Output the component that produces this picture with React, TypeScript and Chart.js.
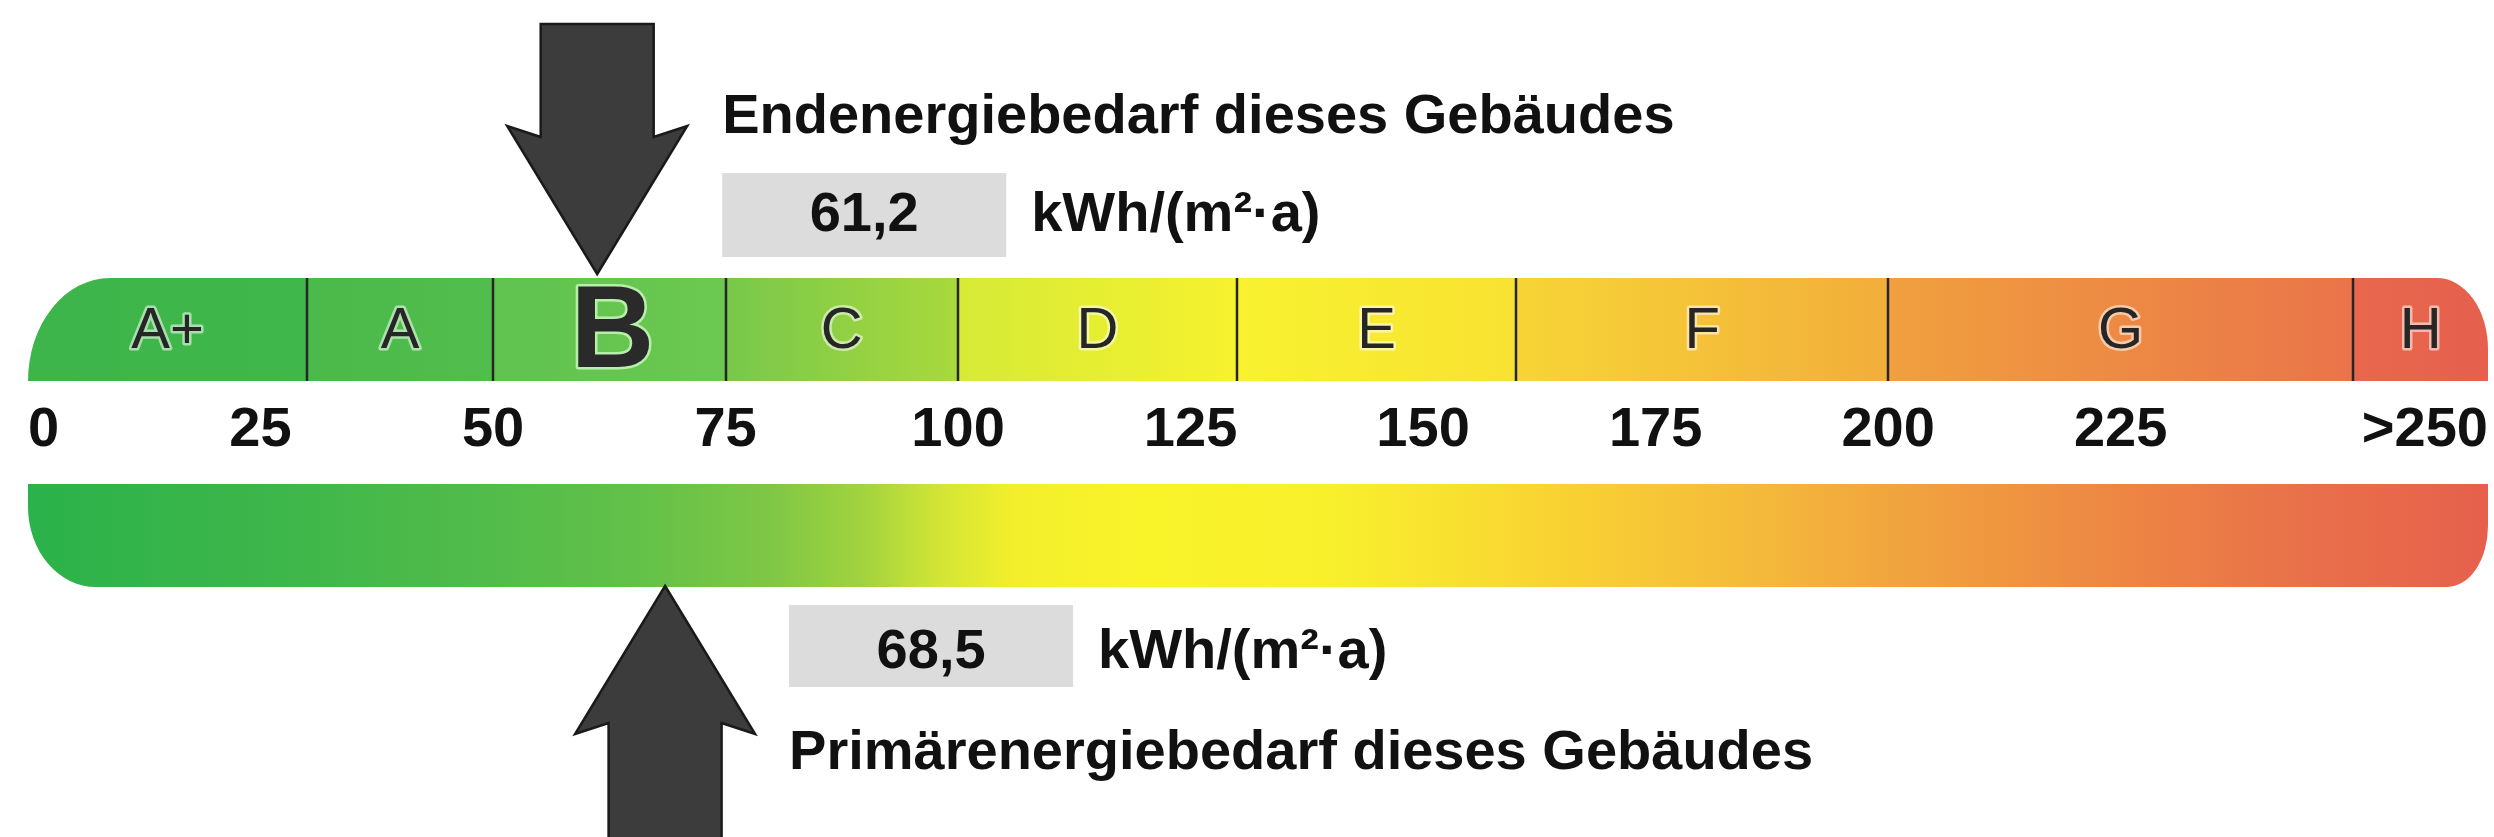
import { useEffect, useRef } from 'react';
import { Chart, registerables } from 'chart.js';

Chart.register(...registerables);

// ---------- data ----------
const rows = ['Endenergiebedarf', 'Skala', 'Primärenergiebedarf'];
const classLabels = ['A+', 'A', 'B', 'C', 'D', 'E', 'F', 'G', 'H'];
const classStarts = [0, 30, 50, 75, 100, 130, 160, 200, 250];
const classEnds = [30, 50, 75, 100, 130, 160, 200, 250, 264.5];
const tickValues = [0, 25, 50, 75, 100, 125, 150, 175, 200, 225];
const lastTickLabel = '>250';
const scaleMax = 264.5;
const endenergieValue = 61.2;
const primaerenergieValue = 68.5;
const unitLabel = 'kWh/(m²·a)';
const endTitle = 'Endenergiebedarf dieses Gebäudes';
const primTitle = 'Primärenergiebedarf dieses Gebäudes';

// ---------- styles ----------
const classColorsFrom = ['#3db54a', '#4aba4b', '#5fc350', '#78c84b', '#d6ea36', '#f8f22f', '#f7d536', '#f0a03e', '#e8674d'];
const classColorsTo = ['#40b74a', '#51bd4c', '#6cc850', '#a9d93c', '#f6f22e', '#f8e232', '#f2ae3b', '#ea744a', '#e6604d'];
const primStopValues = [0, 25, 50, 65, 80, 90, 98, 106, 120, 140, 152, 165, 185, 200, 225, 245, 264.5];
const primStopColors = ['#2bb24a', '#3cb64a', '#52bc4a', '#62c149', '#7fc745', '#a3d33e', '#d2e535', '#f3ef2c', '#f9f329', '#f8f02c', '#f9e22f', '#f9d232', '#f4bb3a', '#f1a53e', '#ed8643', '#e9704a', '#e6604c'];

const FONT = '"Liberation Sans", Arial, Helvetica, sans-serif';

const fmt = (v: number) => v.toFixed(1).replace('.', ',');

function bandPath(ctx: CanvasRenderingContext2D, l: number, t: number, r: number, b: number,
  tl: number[], tr: number[], br: number[], bl: number[]) {
  ctx.moveTo(l + tl[0], t);
  ctx.lineTo(r - tr[0], t);
  if (tr[0]) ctx.ellipse(r - tr[0], t + tr[1], tr[0], tr[1], 0, -Math.PI / 2, 0);
  ctx.lineTo(r, b - br[1]);
  if (br[0]) ctx.ellipse(r - br[0], b - br[1], br[0], br[1], 0, 0, Math.PI / 2);
  ctx.lineTo(l + bl[0], b);
  if (bl[0]) ctx.ellipse(l + bl[0], b - bl[1], bl[0], bl[1], 0, Math.PI / 2, Math.PI);
  ctx.lineTo(l, t + tl[1]);
  if (tl[0]) ctx.ellipse(l + tl[0], t + tl[1], tl[0], tl[1], 0, Math.PI, Math.PI * 1.5);
  ctx.closePath();
}

function bandOf(chart: any, datasetIndex: number) {
  const el = chart.getDatasetMeta(datasetIndex).data[0];
  const p = el.getProps(['y', 'height'], true);
  return { top: p.y - p.height / 2, bottom: p.y + p.height / 2 };
}

function drawArrow(ctx: CanvasRenderingContext2D, x: number, tipY: number, dir: number, endY: number) {
  // dir = 1: pointing down (tip below shaft); dir = -1: pointing up
  const head = 148, junction = 137, wing = 90, shaft = 56.5;
  ctx.save();
  ctx.beginPath();
  ctx.moveTo(x - shaft, endY);
  ctx.lineTo(x - shaft, tipY - dir * junction);
  ctx.lineTo(x - wing, tipY - dir * head);
  ctx.lineTo(x, tipY);
  ctx.lineTo(x + wing, tipY - dir * head);
  ctx.lineTo(x + shaft, tipY - dir * junction);
  ctx.lineTo(x + shaft, endY);
  ctx.closePath();
  ctx.fillStyle = '#3c3c3c';
  ctx.fill();
  ctx.lineWidth = 2.5;
  ctx.strokeStyle = '#1a1a1a';
  ctx.lineJoin = 'miter';
  ctx.stroke();
  ctx.restore();
}

const energyPlugin = {
  id: 'energyPlugin',
  beforeDraw(chart: any) {
    const ctx = chart.ctx;
    ctx.save();
    ctx.fillStyle = '#ffffff';
    ctx.fillRect(0, 0, chart.width, chart.height);
    ctx.restore();
  },
  beforeDatasetsDraw(chart: any) {
    const ctx = chart.ctx;
    const xs = chart.scales.x;
    const l = xs.getPixelForValue(0);
    const r = xs.getPixelForValue(scaleMax);
    const top = bandOf(chart, 0);
    const bot = bandOf(chart, 1);
    const h = top.bottom - top.top;
    ctx.save();
    ctx.beginPath();
    bandPath(ctx, l, top.top, r, top.bottom, [82, h], [51, 71], [0, 0], [0, 0]);
    bandPath(ctx, l, bot.top, r, bot.bottom, [0, 0], [0, 0], [41, 61], [68, 80]);
    ctx.clip();
  },
  afterDatasetsDraw(chart: any) {
    const ctx = chart.ctx;
    ctx.restore();
    const xs = chart.scales.x;
    const top = bandOf(chart, 0);
    // class dividers
    ctx.save();
    ctx.strokeStyle = '#262626';
    ctx.lineWidth = 2.5;
    for (let i = 1; i < classStarts.length; i++) {
      const px = Math.round(xs.getPixelForValue(classStarts[i]));
      ctx.beginPath();
      ctx.moveTo(px, top.top);
      ctx.lineTo(px, top.bottom);
      ctx.stroke();
    }
    // class labels
    const meta = chart.getDatasetMeta(0);
    ctx.textAlign = 'center';
    ctx.textBaseline = 'alphabetic';
    ctx.lineJoin = 'round';
    meta.data.forEach((el: any, i: number) => {
      const p = el.getProps(['x', 'base'], true);
      const cx = (p.x + p.base) / 2;
      const active = endenergieValue >= classStarts[i] && endenergieValue < classEnds[i];
      if (active) {
        ctx.font = `bold 116px ${FONT}`;
        ctx.lineWidth = 5;
        ctx.strokeStyle = 'rgba(220,255,210,0.7)';
        ctx.strokeText(classLabels[i], cx + 3, top.top + 89);
        ctx.fillStyle = '#2a2a2a';
        ctx.fillText(classLabels[i], cx + 3, top.top + 89);
      } else {
        ctx.font = `58px ${FONT}`;
        ctx.lineWidth = 5;
        ctx.strokeStyle = 'rgba(255,255,255,0.55)';
        ctx.strokeText(classLabels[i], cx, top.top + 70);
        ctx.fillStyle = '#262626';
        ctx.fillText(classLabels[i], cx, top.top + 70);
      }
    });
    ctx.restore();
  },
  afterDraw(chart: any) {
    const ctx = chart.ctx;
    const xs = chart.scales.x;
    const top = bandOf(chart, 0);
    const bot = bandOf(chart, 1);
    const ax1 = xs.getPixelForValue(endenergieValue);
    const ax2 = xs.getPixelForValue(primaerenergieValue);
    drawArrow(ctx, ax1, top.top - 4, 1, top.top - 254);
    drawArrow(ctx, ax2, bot.bottom - 1, -1, chart.height + 5);

    ctx.save();
    ctx.textBaseline = 'alphabetic';
    const boxW = 284;
    // upper block
    const tx = ax1 + 125;
    ctx.font = `bold 56px ${FONT}`;
    ctx.fillStyle = '#111111';
    ctx.textAlign = 'left';
    ctx.fillText(endTitle, tx, top.top - 145);
    ctx.fillStyle = '#dcdcdc';
    ctx.fillRect(tx, top.top - 105, boxW, 84);
    ctx.fillStyle = '#111111';
    ctx.textAlign = 'center';
    ctx.fillText(fmt(endenergieValue), tx + boxW / 2, top.top - 47);
    ctx.textAlign = 'left';
    ctx.fillText(unitLabel, tx + boxW + 25, top.top - 47);
    // lower block
    const bx = ax2 + 124;
    ctx.fillStyle = '#dcdcdc';
    ctx.fillRect(bx, bot.bottom + 18, boxW, 82);
    ctx.fillStyle = '#111111';
    ctx.textAlign = 'center';
    ctx.fillText(fmt(primaerenergieValue), bx + boxW / 2, bot.bottom + 81);
    ctx.textAlign = 'left';
    ctx.fillText(unitLabel, bx + boxW + 25, bot.bottom + 81);
    ctx.fillText(primTitle, bx, bot.bottom + 182);
    ctx.restore();
  },
};

export default function App() {
  const ref = useRef<HTMLCanvasElement | null>(null);

  useEffect(() => {
    document.body.style.margin = '0';
    const canvas = ref.current;
    if (!canvas) return;

    const classColor = (c: any) => {
      const i = c.dataIndex;
      const chart = c.chart;
      const xs = chart.scales?.x;
      if (!chart.chartArea || !xs) return classColorsFrom[i];
      const x0 = xs.getPixelForValue(classStarts[i]);
      const x1 = xs.getPixelForValue(classEnds[i]);
      const g = chart.ctx.createLinearGradient(x0, 0, x1, 0);
      g.addColorStop(0, classColorsFrom[i]);
      g.addColorStop(1, classColorsTo[i]);
      return g;
    };
    const primColor = (c: any) => {
      const chart = c.chart;
      const xs = chart.scales?.x;
      if (!chart.chartArea || !xs) return primStopColors[0];
      const x0 = xs.getPixelForValue(0);
      const x1 = xs.getPixelForValue(scaleMax);
      const g = chart.ctx.createLinearGradient(x0, 0, x1, 0);
      primStopValues.forEach((v, k) => g.addColorStop(v / scaleMax, primStopColors[k]));
      return g;
    };

    const chart = new Chart(canvas, {
      type: 'bar',
      data: {
        labels: rows,
        datasets: [
          {
            label: 'Endenergie-Klassen',
            data: classLabels.map((_, i) => ({ x: [classStarts[i], classEnds[i]], y: rows[0] })) as any,
            backgroundColor: classColor as any,
            borderWidth: 0,
            grouped: false,
            barPercentage: 1,
            categoryPercentage: 1,
          } as any,
          {
            label: 'Primärenergie',
            data: [{ x: [0, scaleMax], y: rows[2] }] as any,
            backgroundColor: primColor as any,
            borderWidth: 0,
            grouped: false,
            barPercentage: 1,
            categoryPercentage: 1,
          } as any,
        ],
      },
      options: {
        indexAxis: 'y',
        responsive: false,
        animation: false,
        devicePixelRatio: 1,
        events: [],
        layout: { padding: { left: 28, right: 6, top: 278, bottom: 250 } },
        plugins: {
          legend: { display: false },
          tooltip: { enabled: false },
        },
        scales: {
          x: {
            type: 'linear',
            min: 0,
            max: scaleMax,
            position: 'center',
            grid: { display: false, drawTicks: false },
            border: { display: false },
            afterBuildTicks: (scale: any) => {
              scale.ticks = [...tickValues.map((v) => ({ value: v })), { value: scaleMax }];
            },
            ticks: {
              align: 'inner',
              padding: -36,
              autoSkip: false,
              maxRotation: 0,
              color: '#111111',
              font: { family: FONT, size: 56, weight: 'bold' },
              callback: (v: any) => (Number(v) === scaleMax ? lastTickLabel : String(v)),
            },
          } as any,
          y: { type: 'category', display: false },
        },
      },
      plugins: [energyPlugin],
    });

    return () => chart.destroy();
  }, []);

  return (
    <div style={{ position: 'absolute', left: 0, top: 0, width: 2494, height: 837 }}>
      <canvas ref={ref} width={2494} height={837} style={{ display: 'block', width: 2494, height: 837 }} />
    </div>
  );
}
